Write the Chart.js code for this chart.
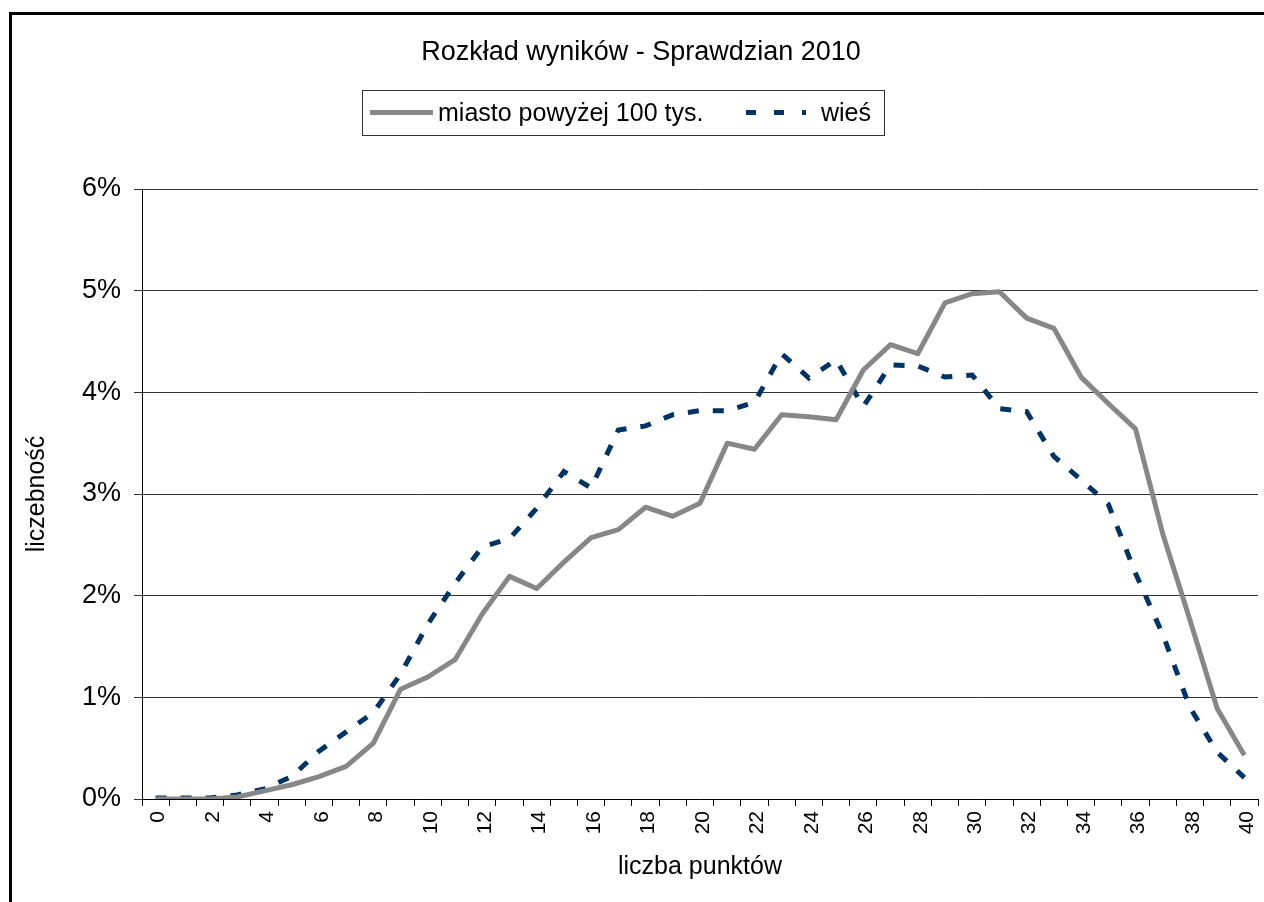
<!DOCTYPE html>
<html><head><meta charset="utf-8">
<style>
html,body{margin:0;padding:0;background:#fff;overflow:hidden;width:1264px;height:902px;}
#frame{position:absolute;left:9px;top:12px;width:1400px;height:1000px;border:3px solid #000;box-sizing:border-box;}
canvas{position:absolute;left:0;top:0;}
</style>
<script src="https://cdn.jsdelivr.net/npm/chart.js@4/dist/chart.umd.min.js"></script>
</head><body>
<div id="frame"></div>
<canvas id="c" width="1264" height="902"></canvas>
<script>
const chartTitle = 'Rozkład wyników - Sprawdzian 2010';
const xTitle = 'liczba punktów';
const yTitle = 'liczebność';
const seriesNames = ['miasto powyżej 100 tys.', 'wieś'];
const categories = ['0','1','2','3','4','5','6','7','8','9','10','11','12','13','14','15','16','17','18','19','20','21','22','23','24','25','26','27','28','29','30','31','32','33','34','35','36','37','38','39','40'];
const xTickLabels = ['0','2','4','6','8','10','12','14','16','18','20','22','24','26','28','30','32','34','36','38','40'];
const yTickValues = [0,1,2,3,4,5,6];
const miasto = [0,0,0,0.02,0.08,0.14,0.22,0.32,0.55,1.08,1.2,1.37,1.82,2.19,2.07,2.33,2.57,2.65,2.87,2.78,2.91,3.5,3.44,3.78,3.76,3.73,4.22,4.47,4.38,4.88,4.97,4.99,4.73,4.63,4.15,3.89,3.64,2.61,1.76,0.89,0.43];
const wies = [0.01,0.01,0.01,0.04,0.1,0.22,0.47,0.66,0.85,1.23,1.72,2.12,2.48,2.56,2.86,3.22,3.06,3.63,3.67,3.78,3.82,3.82,3.9,4.38,4.14,4.32,3.86,4.27,4.26,4.15,4.17,3.84,3.81,3.37,3.14,2.9,2.22,1.62,0.9,0.46,0.21];

const FONT = "'Liberation Sans', Arial, sans-serif";
const GRAY = '#878787';
const NAVY = '#003366';

const overlay = {
  id: 'overlay',
  afterDraw(chart) {
    const ctx = chart.ctx;
    ctx.save();
    ctx.fillStyle = '#000';
    ctx.font = '27px ' + FONT;
    ctx.textAlign = 'center';
    ctx.textBaseline = 'middle';
    ctx.fillText(chartTitle, 641, 53);
    // legend box
    ctx.strokeStyle = '#333';
    ctx.lineWidth = 1;
    ctx.strokeRect(362.5, 90.5, 522, 45);
    ctx.lineWidth = 5;
    ctx.strokeStyle = GRAY;
    ctx.beginPath(); ctx.moveTo(370, 112.5); ctx.lineTo(433, 112.5); ctx.stroke();
    ctx.strokeStyle = NAVY;
    ctx.setLineDash([10, 18]);
    ctx.beginPath(); ctx.moveTo(746, 112.5); ctx.lineTo(806, 112.5); ctx.stroke();
    ctx.setLineDash([]);
    ctx.font = '25px ' + FONT;
    ctx.textAlign = 'left';
    ctx.fillText(seriesNames[0], 438, 114);
    ctx.fillText(seriesNames[1], 821, 114);
    ctx.restore();
  }
};

new Chart(document.getElementById('c'), {
  type: 'line',
  data: {
    labels: categories,
    datasets: [
      { label: seriesNames[0], data: miasto, borderColor: GRAY, borderWidth: 5, pointRadius: 0, tension: 0, fill: false, borderJoinStyle: 'round' },
      { label: seriesNames[1], data: wies, borderColor: NAVY, borderWidth: 5, pointRadius: 0, tension: 0, fill: false, borderDash: [11, 14], borderCapStyle: 'butt' }
    ]
  },
  options: {
    responsive: false,
    animation: false,
    events: [],
    layout: { padding: { top: 189, right: 6, left: 0, bottom: 0 } },
    plugins: { legend: { display: false }, title: { display: false }, tooltip: { enabled: false } },
    scales: {
      x: {
        type: 'category',
        offset: true,
        afterFit(s) { s.height = 103; s.paddingLeft = 0; s.paddingRight = 0; },
        grid: { display: true, drawOnChartArea: false, drawTicks: true, tickLength: 7, offset: true, color: '#000', lineWidth: 1 },
        border: { display: true, color: '#000', width: 1 },
        ticks: {
          autoSkip: false, maxRotation: 90, minRotation: 90, padding: 5, labelOffset: 3,
          color: '#000', font: { family: FONT, size: 21 },
          callback(v, i) { const c = categories[i]; return xTickLabels.includes(c) ? c : ''; }
        },
        title: { display: true, text: xTitle, color: '#000', font: { family: FONT, size: 25 }, padding: { top: 0, bottom: 20 } }
      },
      y: {
        min: 0, max: 6,
        afterFit(s) { s.width = 142; s.paddingTop = 0; s.paddingBottom = 0; },
        afterBuildTicks(s) { s.ticks = yTickValues.map(v => ({ value: v })); },
        grid: { color: '#333', lineWidth: 1, tickLength: 8, drawTicks: true },
        border: { display: true, color: '#000', width: 1 },
        ticks: { padding: 13, color: '#000', font: { family: FONT, size: 27 }, callback: v => v + '%' },
        title: { display: true, text: yTitle, color: '#000', font: { family: FONT, size: 25 }, padding: { top: 22, bottom: 0 } }
      }
    }
  },
  plugins: [overlay]
});
</script>
</body></html>
